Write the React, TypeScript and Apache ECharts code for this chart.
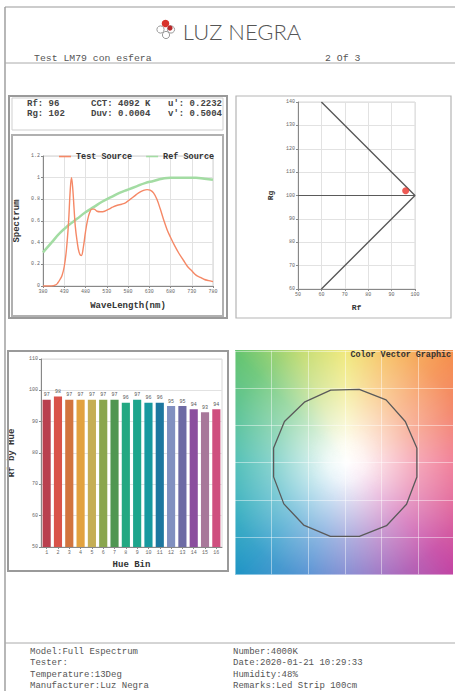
import React, { useEffect, useRef } from "react";
import * as echarts from "echarts";

// ---------- DATA ----------
const wavelengths = [380, 390, 400, 410, 415, 420, 425, 430, 435, 440, 444, 447, 450, 453, 456, 460, 465, 470, 475, 480, 485, 490, 495, 500, 507, 515, 525, 535, 545, 555, 565, 575, 585, 595, 605, 615, 625, 632, 640, 648, 656, 664, 672, 680, 690, 700, 710, 720, 730, 740, 750, 760, 770, 780];
const testSpectrum = [0, 0, 0, 0.01, 0.03, 0.06, 0.1, 0.18, 0.33, 0.58, 0.88, 1.0, 0.9, 0.72, 0.55, 0.42, 0.31, 0.28, 0.36, 0.5, 0.61, 0.68, 0.71, 0.71, 0.69, 0.685, 0.69, 0.71, 0.73, 0.745, 0.755, 0.77, 0.8, 0.83, 0.86, 0.88, 0.89, 0.885, 0.86, 0.8, 0.71, 0.61, 0.52, 0.45, 0.37, 0.3, 0.24, 0.18, 0.14, 0.1, 0.08, 0.06, 0.05, 0.04];
const refWavelengths = [380, 400, 420, 440, 460, 480, 500, 520, 540, 560, 580, 600, 620, 640, 660, 680, 700, 720, 740, 760, 780];
const refSpectrum = [0.31, 0.4, 0.49, 0.56, 0.62, 0.68, 0.73, 0.78, 0.82, 0.86, 0.89, 0.92, 0.95, 0.97, 0.99, 1.0, 1.0, 1.0, 1.0, 0.99, 0.98];

const hueBins = ["1", "2", "3", "4", "5", "6", "7", "8", "9", "10", "11", "12", "13", "14", "15", "16"];
const rfByHue = [97, 98, 97, 97, 97, 97, 97, 96, 97, 96, 96, 95, 95, 94, 93, 94];
const hueColors = ["#b9404f", "#d9534a", "#d2743e", "#e2a23f", "#c5ae55", "#8aa64e", "#4f9652", "#22a882", "#1ea58c", "#17999f", "#1d779f", "#8190c0", "#6d6aa4", "#8b4f9e", "#a8789a", "#cf4f7f"];

const rfRgBoundary = [[60, 140], [100, 100], [60, 60]];
const rfRgReference = [[50, 100], [100, 100]];
const measuredPoint = [96, 102];

const vectorRadii = [1.0, 0.99, 1.01, 1.0, 0.99, 0.98, 0.99, 0.99, 0.99, 1.0, 1.01, 1.01, 1.01, 1.02, 1.01, 1.0];

const infoRows = [
  ["Rf: 96", "CCT: 4092 K", "u': 0.2232"],
  ["Rg: 102", "Duv: 0.0004", "v': 0.5004"],
];
const footerLeft = ["Model:Full Espectrum", "Tester:", "Temperature:13Deg", "Manufacturer:Luz Negra"];
const footerRight = ["Number:4000K", "Date:2020-01-21 10:29:33", "Humidity:48%", "Remarks:Led Strip 100cm"];

const hueStops: [number, string][] = [
  [0, "#ee5a7a"], [25, "#f2704f"], [45, "#f58a45"], [70, "#f5b84a"], [90, "#ece35a"],
  [112, "#b8d65a"], [135, "#5ec26c"], [160, "#3cb88a"], [180, "#26b0a6"], [205, "#1aa2b8"],
  [225, "#1a92c4"], [250, "#3a80cc"], [270, "#6a72c8"], [292, "#9a55b4"], [315, "#c23c9e"],
  [338, "#dc4a88"], [360, "#ee5a7a"],
];

const MONO = '"Liberation Mono", "DejaVu Sans Mono", monospace';

function hex(c: string) {
  return [parseInt(c.slice(1, 3), 16), parseInt(c.slice(3, 5), 16), parseInt(c.slice(5, 7), 16)];
}
function hueAt(d: number) {
  for (let i = 0; i < hueStops.length - 1; i++) {
    const [a0, c0] = hueStops[i];
    const [a1, c1] = hueStops[i + 1];
    if (d >= a0 && d <= a1) {
      const t = (d - a0) / (a1 - a0);
      const p = hex(c0), q = hex(c1);
      const r = p.map((v, k) => Math.round(v + (q[k] - v) * t));
      return `rgb(${r[0]},${r[1]},${r[2]})`;
    }
  }
  return hueStops[0][1];
}
function makeHueImage(w: number, h: number, cx: number, cy: number): string {
  const c = document.createElement("canvas");
  c.width = w * 2;
  c.height = h * 2;
  const ctx = c.getContext("2d");
  if (!ctx) return "";
  ctx.scale(2, 2);
  const R = Math.hypot(w, h);
  for (let d = 0; d < 360; d += 1) {
    const a0 = (-d * Math.PI) / 180;
    const a1 = (-(d + 1.6) * Math.PI) / 180;
    ctx.beginPath();
    ctx.moveTo(cx, cy);
    ctx.arc(cx, cy, R, a0, a1, true);
    ctx.closePath();
    ctx.fillStyle = hueAt(d);
    ctx.fill();
  }
  const g = ctx.createRadialGradient(cx, cy, 0, cx, cy, 165);
  g.addColorStop(0, "rgba(255,255,255,1)");
  g.addColorStop(0.12, "rgba(255,255,255,0.9)");
  g.addColorStop(0.45, "rgba(255,255,255,0.45)");
  g.addColorStop(0.75, "rgba(255,255,255,0.14)");
  g.addColorStop(1, "rgba(255,255,255,0)");
  ctx.fillStyle = g;
  ctx.fillRect(0, 0, w, h);
  return c.toDataURL();
}

export default function App() {
  const ref = useRef<HTMLDivElement>(null);
  useEffect(() => {
    if (!ref.current) return;
    const chart = echarts.init(ref.current, undefined, { renderer: "svg" });

    const vx0 = 235, vy0 = 350, vw = 218, vh = 225;
    const unit = 74.5, ccx = 346.5, ccy = 462.5;
    const img = makeHueImage(vw, vh, ccx - vx0, ccy - vy0);

    const polygon: number[][] = [];
    for (let i = 0; i <= vectorRadii.length; i++) {
      const k = i % vectorRadii.length;
      const ang = ((k + 0.5) * 22.5 * Math.PI) / 180;
      polygon.push([vectorRadii[k] * Math.cos(ang), vectorRadii[k] * Math.sin(ang)]);
    }

    const txt = (text: string, x: number, y: number, size: number, opts: any = {}) => ({
      type: "text",
      silent: true,
      style: {
        text, x, y, fontSize: size, fontFamily: opts.family || MONO, fontWeight: opts.weight || "normal",
        fill: opts.fill || "#555", align: opts.align || "left", verticalAlign: "middle",
      },
      z: 10,
    });
    const rect = (x: number, y: number, w: number, h: number, stroke: string, lw: number) => ({
      type: "rect", silent: true, shape: { x, y, width: w, height: h },
      style: { fill: "none", stroke, lineWidth: lw }, z: 5,
    });
    const hline = (x1: number, x2: number, y: number, stroke = "#a0a0a0", lw = 1) => ({
      type: "line", silent: true, shape: { x1, y1: y, x2, y2: y }, style: { stroke, lineWidth: lw }, z: 5,
    });

    const graphics: any[] = [
      { type: "image", silent: true, z: -10, style: { image: img, x: vx0, y: vy0, width: vw, height: vh } },
      { type: "line", silent: true, shape: { x1: 5, y1: 7, x2: 5, y2: 691 }, style: { stroke: "#888", lineWidth: 1.2 } },
      hline(5, 455, 7, "#999", 1.2),
      hline(5, 455, 63, "#aaa", 1),
      hline(5, 455, 643, "#aaa", 1),
      rect(9, 96, 218, 222, "#9a9a9a", 2),
      rect(12, 98, 211, 32, "#cfcfcf", 1),
      rect(12, 135, 211, 181, "#b0b0b0", 2),
      rect(236, 96, 215, 222, "#b5b5b5", 1.2),
      rect(8, 351, 220, 220, "#9a9a9a", 2),
      // logo
      { type: "circle", silent: true, shape: { cx: 160.5, cy: 29.5, r: 3.6 }, style: { fill: "none", stroke: "#999", lineWidth: 1 } },
      { type: "circle", silent: true, shape: { cx: 166, cy: 35, r: 3.6 }, style: { fill: "none", stroke: "#999", lineWidth: 1 } },
      { type: "circle", silent: true, shape: { cx: 171, cy: 29.5, r: 3.6 }, style: { fill: "none", stroke: "#999", lineWidth: 1 } },
      { type: "circle", silent: true, shape: { cx: 165.5, cy: 23.5, r: 3.8 }, style: { fill: "#d8332c" } },
      { type: "circle", silent: true, shape: { cx: 170, cy: 28, r: 2.6 }, style: { fill: "#b8282a" } },
      txt("LUZ NEGRA", 242, 31, 22, { family: "Lato, 'Open Sans', sans-serif", weight: 300, fill: "#555", align: "center" }),
      txt("Test LM79 con esfera", 34, 58, 9.8, { fill: "#555" }),
      txt("2 Of 3", 325, 58, 9.8, { fill: "#555" }),
      txt("Color Vector Graphic", 451, 355, 8.4, { weight: "bold", fill: "#333", align: "right" }),
    ];
    const infoX = [27, 91, 168];
    infoRows.forEach((row, r) => {
      row.forEach((t, c) => graphics.push(txt(t, infoX[c], 104 + r * 10, 9, { weight: "bold", fill: "#444" })));
    });
    footerLeft.forEach((t, i) => graphics.push(txt(t, 30, 652 + i * 11.3, 9, { fill: "#555" })));
    footerRight.forEach((t, i) => graphics.push(txt(t, 233, 652 + i * 11.3, 9, { fill: "#555" })));

    const axisLabel = { fontSize: 5, color: "#666", fontFamily: MONO, margin: 3 };
    const nameStyle = { fontSize: 9, fontWeight: "bold", color: "#333", fontFamily: MONO };
    const split = { show: true, lineStyle: { color: "#e2e2e2", width: 1 } };
    const axLine = { show: true, lineStyle: { color: "#888", width: 1 } };

    chart.setOption({
      animation: false,
      backgroundColor: "#fff",
      graphic: graphics,
      legend: {
        data: [
          { name: "Test Source", icon: "rect", itemStyle: { color: "#f58866" } },
          { name: "Ref Source", icon: "rect", itemStyle: { color: "#a3dca3" } },
        ],
        left: 54,
        top: 147,
        itemWidth: 12,
        itemHeight: 1.6,
        itemGap: 14,
        textStyle: { fontSize: 8.5, fontWeight: "bold", color: "#333", fontFamily: MONO },
      },
      grid: [
        { left: 43, top: 156, width: 170, height: 130, show: true, borderColor: "#d0d0d0", borderWidth: 1 },
        { left: 298, top: 102, width: 117, height: 187, show: true, borderColor: "#d8d8d8", borderWidth: 1 },
        { left: 41, top: 359, width: 181, height: 188, show: true, borderColor: "#d8d8d8", borderWidth: 1 },
        { left: ccx - 1.5 * unit, top: ccy - 1.5 * unit, width: 3 * unit, height: 3 * unit },
      ],
      xAxis: [
        {
          gridIndex: 0, type: "value", min: 380, max: 780, interval: 50,
          axisLabel, axisLine: axLine, axisTick: { show: true, length: 2, lineStyle: { color: "#888" } }, splitLine: split,
          name: "WaveLength(nm)", nameLocation: "middle", nameGap: 15, nameTextStyle: nameStyle,
        },
        {
          gridIndex: 1, type: "value", min: 50, max: 100, interval: 10,
          axisLabel, axisLine: axLine, axisTick: { show: true, length: 2, lineStyle: { color: "#888" } }, splitLine: split,
          name: "Rf", nameLocation: "middle", nameGap: 14, nameTextStyle: { ...nameStyle, fontSize: 8 },
        },
        {
          gridIndex: 2, type: "category", data: hueBins,
          axisLabel, axisLine: axLine, axisTick: { show: true, length: 2, alignWithLabel: true, lineStyle: { color: "#888" } },
          name: "Hue Bin", nameLocation: "middle", nameGap: 13, nameTextStyle: nameStyle,
        },
        {
          gridIndex: 3, type: "value", min: -1.5, max: 1.5, interval: 0.5, show: true,
          axisLabel: { show: false }, axisLine: { show: false }, axisTick: { show: false },
          splitLine: { show: true, lineStyle: { color: "rgba(255,255,255,0.45)", width: 1 } },
        },
      ],
      yAxis: [
        {
          gridIndex: 0, type: "value", min: 0, max: 1.2, interval: 0.2,
          axisLabel, axisLine: axLine, axisTick: { show: true, length: 2, lineStyle: { color: "#888" } }, splitLine: split,
          name: "Spectrum", nameLocation: "middle", nameGap: 22, nameTextStyle: nameStyle,
        },
        {
          gridIndex: 1, type: "value", min: 60, max: 140, interval: 10,
          axisLabel, axisLine: axLine, axisTick: { show: true, length: 2, lineStyle: { color: "#888" } }, splitLine: split,
          name: "Rg", nameLocation: "middle", nameGap: 24, nameTextStyle: { ...nameStyle, fontSize: 8 },
        },
        {
          gridIndex: 2, type: "value", min: 50, max: 110, interval: 10,
          axisLabel, axisLine: axLine, axisTick: { show: true, length: 2, lineStyle: { color: "#888" } }, splitLine: split,
          name: "Rf by Hue", nameLocation: "middle", nameGap: 25, nameTextStyle: nameStyle,
        },
        {
          gridIndex: 3, type: "value", min: -1.5, max: 1.5, interval: 0.5,
          axisLabel: { show: false }, axisLine: { show: false }, axisTick: { show: false },
          splitLine: { show: true, lineStyle: { color: "rgba(255,255,255,0.45)", width: 1 } },
        },
      ],
      series: [
        {
          name: "Ref Source", type: "line", xAxisIndex: 0, yAxisIndex: 0, smooth: true, symbol: "none",
          data: refWavelengths.map((w, i) => [w, refSpectrum[i]]),
          lineStyle: { color: "#a3dca3", width: 2.5 }, itemStyle: { color: "#a3dca3" },
        },
        {
          name: "Test Source", type: "line", xAxisIndex: 0, yAxisIndex: 0, smooth: 0.4, symbol: "none",
          data: wavelengths.map((w, i) => [w, testSpectrum[i]]),
          lineStyle: { color: "#f58866", width: 1.4 }, itemStyle: { color: "#f58866" },
        },
        {
          type: "line", xAxisIndex: 1, yAxisIndex: 1, symbol: "none", data: rfRgBoundary,
          lineStyle: { color: "#5a5a5a", width: 1.4 },
        },
        {
          type: "line", xAxisIndex: 1, yAxisIndex: 1, symbol: "none", data: rfRgReference,
          lineStyle: { color: "#5a5a5a", width: 1.2 },
        },
        {
          type: "scatter", xAxisIndex: 1, yAxisIndex: 1, data: [measuredPoint], symbolSize: 7,
          itemStyle: { color: "#e8322a" }, z: 5,
        },
        {
          type: "bar", xAxisIndex: 2, yAxisIndex: 2, barCategoryGap: "28%",
          data: rfByHue.map((v, i) => ({ value: v, itemStyle: { color: hueColors[i] } })),
          label: { show: true, position: "top", distance: 2, fontSize: 5, color: "#555", fontFamily: MONO },
        },
        {
          type: "line", xAxisIndex: 3, yAxisIndex: 3, symbol: "none", data: polygon,
          lineStyle: { color: "#5a5a5a", width: 1.3 },
        },
      ],
    });
    return () => chart.dispose();
  }, []);
  return <div ref={ref} style={{ position: "absolute", left: 0, top: 0, width: 455, height: 691 }} />;
}
